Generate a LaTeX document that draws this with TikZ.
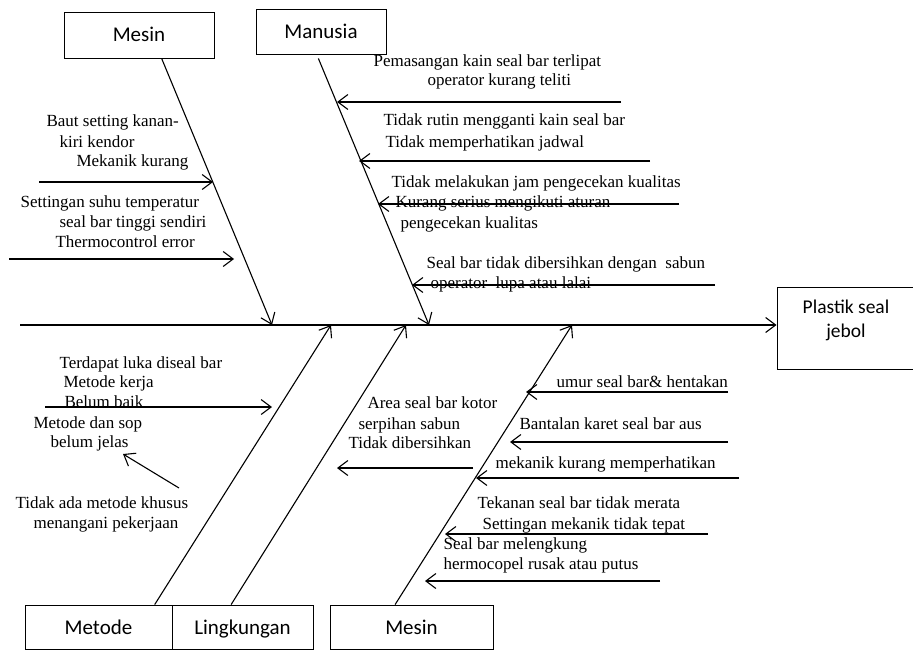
\documentclass[tikz,border=0pt]{standalone}
\usepackage{fontspec}
\setmainfont{Liberation Serif}
\newfontfamily\boxfont{Carlito}
\usetikzlibrary{arrows.meta,calc,positioning}

\begin{document}
\begin{tikzpicture}[x=1pt, y=-1pt, line width=1.1pt,
>={Straight Barb[length=10pt,width=15pt]},
box/.style = {draw, rectangle, line width=0.9pt, inner sep=0pt, align=center,
              text height=16pt, text depth=2pt,
              font=\boxfont\fontsize{21}{24}\selectfont},
txt/.style = {anchor=west, inner sep=0pt, text height=11pt, text depth=3pt,
              font=\fontsize{17}{20}\selectfont}]
    \useasboundingbox (0,0) rectangle (913,650);
    % categories and effect
    \node [box, minimum width=150, minimum height=46]  (MS)  at (139,35)    {Mesin};
    \node [box, minimum width=130, minimum height=45]  (MN)  at (321,31.5)  {Manusia};
    \node [box, minimum width=147, minimum height=44]  (MT)  at (98.5,627)  {Metode};
    \node [box, minimum width=141, minimum height=44]  (LK)  at (242.5,627) {Lingkungan};
    \node [box, minimum width=163, minimum height=44]  (MB)  at (411.5,627) {Mesin};
    \node [box, minimum width=138, minimum height=82, text height=, text depth=19pt,
           font=\boxfont\fontsize{19.5}{24}\selectfont] (PS) at (846,328) {Plastik seal\\jebol};
    % spine and bones
    \coordinate (s0) at (20,325);
    \coordinate (j1) at (272,325);
    \coordinate (j2) at (429,325);
    \coordinate (j3) at (331,325);
    \coordinate (j4) at (406,325);
    \coordinate (j5) at (572,325);
    \draw[->] (s0) -- (s0 -| PS.west);
    \draw[->] ($(MS.south west)!.65!(MS.south east)$) -- (j1);
    \draw[->] ($(MN.south west)!.48!(MN.south east)$) ++(0,4) -- (j2);
    \draw[->] ($(MT.north west)!.88!(MT.north east)$) -- (j3);
    \draw[->] ($(LK.north west)!.42!(LK.north east)$) -- (j4);
    \draw[->] ($(MB.north west)!.40!(MB.north east)$) -- (j5);

    % Mesin (atas)
    \node [txt] (t1)  at (46,123)  {Baut setting kanan-};
    \node [txt] (t2)  at (59,143)  {kiri kendor};
    \node [txt] (t3)  at (76,163)  {Mekanik kurang};
    \node [txt] (t4)  at (20,203)  {Settingan suhu temperatur};
    \node [txt] (t5)  at (59,223)  {seal bar tinggi sendiri};
    \node [txt] (t6)  at (55,243)  {Thermocontrol error};
    \coordinate (a1) at (39,182);  \coordinate (a1e) at (213,182);
    \coordinate (a2) at (9,259);   \coordinate (a2e) at (234,259);
    \draw[->] (a1) -- (a1e);
    \draw[->] (a2) -- (a2e);

    % Manusia
    \node [txt] (u1)  at (373,63)  {Pemasangan kain seal bar terlipat};
    \node [txt] (u2)  at (427,82)  {operator kurang teliti};
    \node [txt] (u3)  at (383,122) {Tidak rutin mengganti kain seal bar};
    \node [txt] (u4)  at (385,143) {Tidak memperhatikan jadwal};
    \node [txt] (u5)  at (391,183) {Tidak melakukan jam pengecekan kualitas};
    \node [txt] (u6)  at (395,203) {Kurang serius mengikuti aturan};
    \node [txt] (u7)  at (400,224) {pengecekan kualitas};
    \node [txt] (u8)  at (426,264) {Seal bar tidak dibersihkan dengan\ \ sabun};
    \node [txt] (u9)  at (430,284) {operator\ \ lupa atau lalai};
    \coordinate (b1) at (621,102); \coordinate (b1e) at (337,102);
    \coordinate (b2) at (650,161); \coordinate (b2e) at (359,161);
    \coordinate (b3) at (679,204); \coordinate (b3e) at (378,204);
    \coordinate (b4) at (715,285); \coordinate (b4e) at (412,285);
    \draw[->] (b1) -- (b1e);
    \draw[->] (b2) -- (b2e);
    \draw[->] (b3) -- (b3e);
    \draw[->] (b4) -- (b4e);

    % Metode
    \node [txt] (m1)  at (59,364)  {Terdapat luka diseal bar};
    \node [txt] (m2)  at (63,383)  {Metode kerja};
    \node [txt] (m3)  at (64,403)  {Belum baik};
    \node [txt] (m4)  at (33,424)  {Metode dan sop};
    \node [txt] (m5)  at (50,443)  {belum jelas};
    \node [txt] (m6)  at (15,504)  {Tidak ada metode khusus};
    \node [txt] (m7)  at (33,524)  {menangani pekerjaan};
    \coordinate (c1) at (45,407);  \coordinate (c1e) at (272,407);
    \coordinate (c2) at (179,488); \coordinate (c2e) at (123,454);
    \draw[->] (c1) -- (c1e);
    \draw[->] (c2) -- (c2e);

    % Lingkungan
    \node [txt] (l1)  at (367,404) {Area seal bar kotor};
    \node [txt] (l2)  at (358,425) {serpihan sabun};
    \node [txt] (l3)  at (348,444) {Tidak dibersihkan};
    \coordinate (d1) at (473,468); \coordinate (d1e) at (337,468);
    \draw[->] (d1) -- (d1e);

    % Mesin (bawah)
    \node [txt] (n1)  at (556,383) {umur seal bar\& hentakan};
    \node [txt] (n2)  at (519,425) {Bantalan karet seal bar aus};
    \node [txt] (n3)  at (495,464) {mekanik kurang memperhatikan};
    \node [txt] (n4)  at (477,504) {Tekanan seal bar tidak merata};
    \node [txt] (n5)  at (482,525) {Settingan mekanik tidak tepat};
    \node [txt] (n6)  at (443,545) {Seal bar melengkung};
    \node [txt] (n7)  at (443,565) {hermocopel rusak atau putus};
    \coordinate (e1) at (728,392); \coordinate (e1e) at (526,392);
    \coordinate (e2) at (728,442); \coordinate (e2e) at (510,442);
    \coordinate (e3) at (739,478); \coordinate (e3e) at (476,478);
    \coordinate (e4) at (708,534); \coordinate (e4e) at (445,534);
    \coordinate (e5) at (660,581); \coordinate (e5e) at (425,581);
    \draw[->] (e1) -- (e1e);
    \draw[->] (e2) -- (e2e);
    \draw[->] (e3) -- (e3e);
    \draw[->] (e4) -- (e4e);
    \draw[->] (e5) -- (e5e);
\end{tikzpicture}
\end{document}
